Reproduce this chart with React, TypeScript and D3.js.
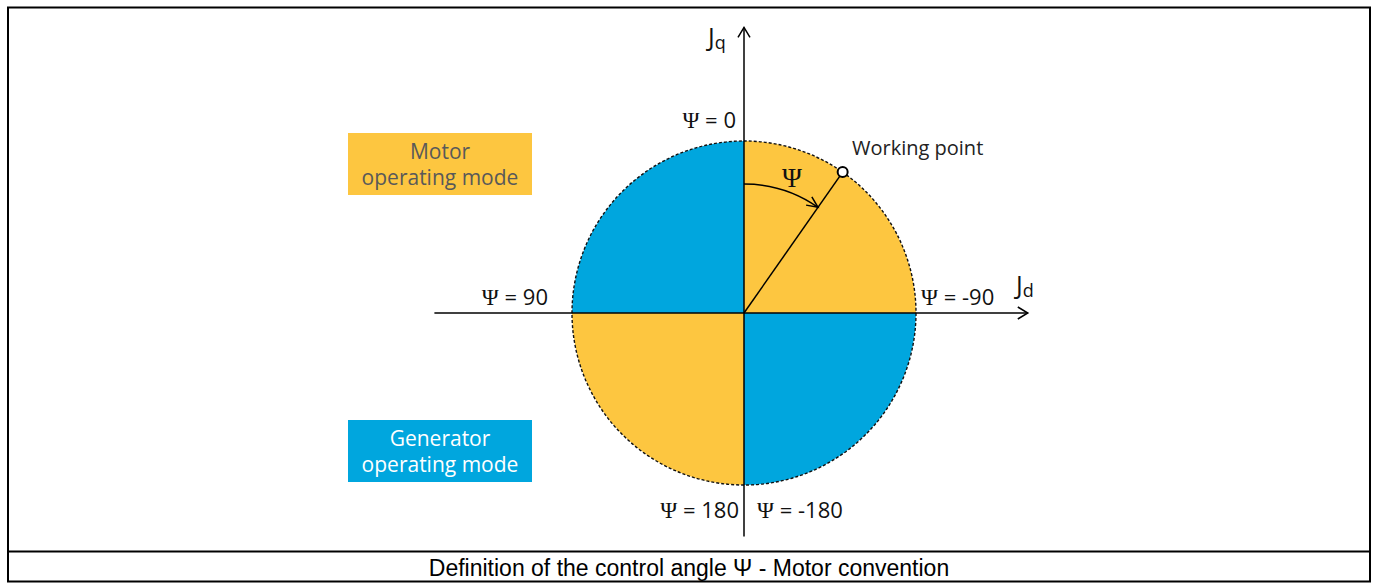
import React from 'react';
import * as d3 from 'd3';

// quadrants, clockwise from +Jq (degrees)
const quadrantStart = [0, 90, 180, 270];
const quadrantMode = ['motor', 'generator', 'motor', 'generator'];

// control angle labels on the axes
const psiValues = ['0', '-90', '180', '-180', '90'];

// working point angle (motor convention, clockwise = negative)
const workingPsi = -35;
const arcFraction = 0.75;

const modeLabels = [
    ['Motor', 'operating mode'],
    ['Generator', 'operating mode'],
];

const caption = 'Definition of the control angle Ψ - Motor convention';

const W = 1375;
const H = 583;
const cx = 744;
const cy = 313;
const R = 172;

const YELLOW = '#fdc640';
const BLUE = '#00a6de';

const sans = "'Open Sans', 'Noto Sans', sans-serif";
const serif = "'Liberation Serif', 'DejaVu Serif', serif";

const Psi: React.FC<{ x: number; y: number; anchor: string; value: string }> = ({ x, y, anchor, value }) => (
    <text x={x} y={y} textAnchor={anchor as any} fontSize={22} fill="#111" fontFamily={sans}>
        <tspan fontFamily={serif} fontSize={23}>Ψ</tspan>
        <tspan> = {value}</tspan>
    </text>
);

const App: React.FC = () => {
    const x = d3.scaleLinear().domain([-1, 1]).range([cx - R, cx + R]);
    const y = d3.scaleLinear().domain([-1, 1]).range([cy + R, cy - R]);
    const rad = (d: number) => (d * Math.PI) / 180;

    const quadArc = d3.arc<number>()
        .innerRadius(0)
        .outerRadius(R)
        .startAngle(d => rad(d))
        .endAngle(d => rad(d + 90));

    // working point on the circle (psi measured clockwise as negative)
    const wpAng = rad(-workingPsi);
    const wpX = x(Math.sin(wpAng));
    const wpY = y(Math.cos(wpAng));

    const arcR = R * arcFraction;
    const psiArc = d3.arc()({
        innerRadius: arcR,
        outerRadius: arcR,
        startAngle: 0,
        endAngle: wpAng,
    } as any) as string;
    const tipX = cx + arcR * Math.sin(wpAng);
    const tipY = cy - arcR * Math.cos(wpAng);
    // tangent direction (clockwise) at the tip
    const tx = Math.cos(wpAng);
    const ty = Math.sin(wpAng);
    const nx = -ty;
    const ny = tx;
    const ah = 11;
    const aw = 5;

    const xAxisL = x(-1.8);
    const xAxisR = x(1.65);
    const yAxisT = y(1.66);
    const yAxisB = y(-1.3);

    return (
        <svg width={W} height={H} style={{ position: 'absolute', left: 0, top: 0 }}>
            <rect x={0} y={0} width={W} height={H} fill="#fff" />
            {/* table frame */}
            <rect x={8} y={7.5} width={1362} height={574} fill="none" stroke="#000" strokeWidth={2} />
            <line x1={8} x2={1370} y1={551.5} y2={551.5} stroke="#000" strokeWidth={2} />
            <text x={689} y={576} textAnchor="middle" fontSize={23} fontFamily="'Liberation Sans', Arial, sans-serif" fill="#000">
                {caption}
            </text>

            {/* mode boxes */}
            {modeLabels.map((lines, i) => {
                const top = i === 0 ? 133 : 420;
                return (
                    <g key={i}>
                        <rect x={348} y={top} width={184} height={62} fill={i === 0 ? YELLOW : BLUE} />
                        {lines.map((t, j) => (
                            <text key={j} x={440} y={top + 26 + j * 26} textAnchor="middle" fontSize={21}
                                  fontFamily={sans} fill={i === 0 ? '#595959' : '#fff'}>{t}</text>
                        ))}
                    </g>
                );
            })}

            {/* quadrants */}
            <g transform={`translate(${cx},${cy})`}>
                {quadrantStart.map((s, i) => (
                    <path key={i} d={quadArc(s) as string} fill={quadrantMode[i] === 'motor' ? YELLOW : BLUE} />
                ))}
            </g>
            <circle cx={cx} cy={cy} r={R} fill="none" stroke="#111" strokeWidth={1.4} strokeDasharray="3,2" />

            {/* axes */}
            <line x1={xAxisL} x2={xAxisR} y1={cy} y2={cy} stroke="#000" strokeWidth={1.5} />
            <polyline points={`${xAxisR - 10},${cy - 6} ${xAxisR},${cy} ${xAxisR - 10},${cy + 6}`} fill="none" stroke="#000" strokeWidth={1.5} />
            <line x1={cx} x2={cx} y1={yAxisB} y2={yAxisT} stroke="#000" strokeWidth={1.5} />
            <polyline points={`${cx - 6},${yAxisT + 10} ${cx},${yAxisT} ${cx + 6},${yAxisT + 10}`} fill="none" stroke="#000" strokeWidth={1.5} />

            {/* axis names */}
            <text x={708} y={46} fontSize={25} fontFamily={sans} fill="#111">J<tspan fontSize={18} dy={3}>q</tspan></text>
            <text x={1016} y={294} fontSize={25} fontFamily={sans} fill="#111">J<tspan fontSize={18} dy={3}>d</tspan></text>

            {/* working point */}
            <line x1={cx} y1={cy} x2={wpX} y2={wpY} stroke="#000" strokeWidth={1.5} />
            <path d={psiArc} transform={`translate(${cx},${cy})`} fill="none" stroke="#000" strokeWidth={1.5} />
            <polyline
                points={`${tipX - tx * ah + nx * aw},${tipY - ty * ah + ny * aw} ${tipX},${tipY} ${tipX - tx * ah - nx * aw},${tipY - ty * ah - ny * aw}`}
                fill="none" stroke="#000" strokeWidth={1.5} />
            <circle cx={wpX} cy={wpY} r={5} fill="#fff" stroke="#000" strokeWidth={2} />
            <text x={852} y={155} fontSize={20} fontFamily={sans} fill="#222">Working point</text>
            <text x={792} y={187} textAnchor="middle" fontSize={27} fontFamily={serif} fill="#111">Ψ</text>

            {/* angle labels */}
            <Psi x={cx - 8} y={y(1) - 13} anchor="end" value={psiValues[0]} />
            <Psi x={x(1) + 5} y={cy - 8} anchor="start" value={psiValues[1]} />
            <Psi x={cx - 5} y={y(-1) + 33} anchor="end" value={psiValues[2]} />
            <Psi x={cx + 13} y={y(-1) + 33} anchor="start" value={psiValues[3]} />
            <Psi x={x(-1) - 24} y={cy - 8} anchor="end" value={psiValues[4]} />
        </svg>
    );
};

export default App;
